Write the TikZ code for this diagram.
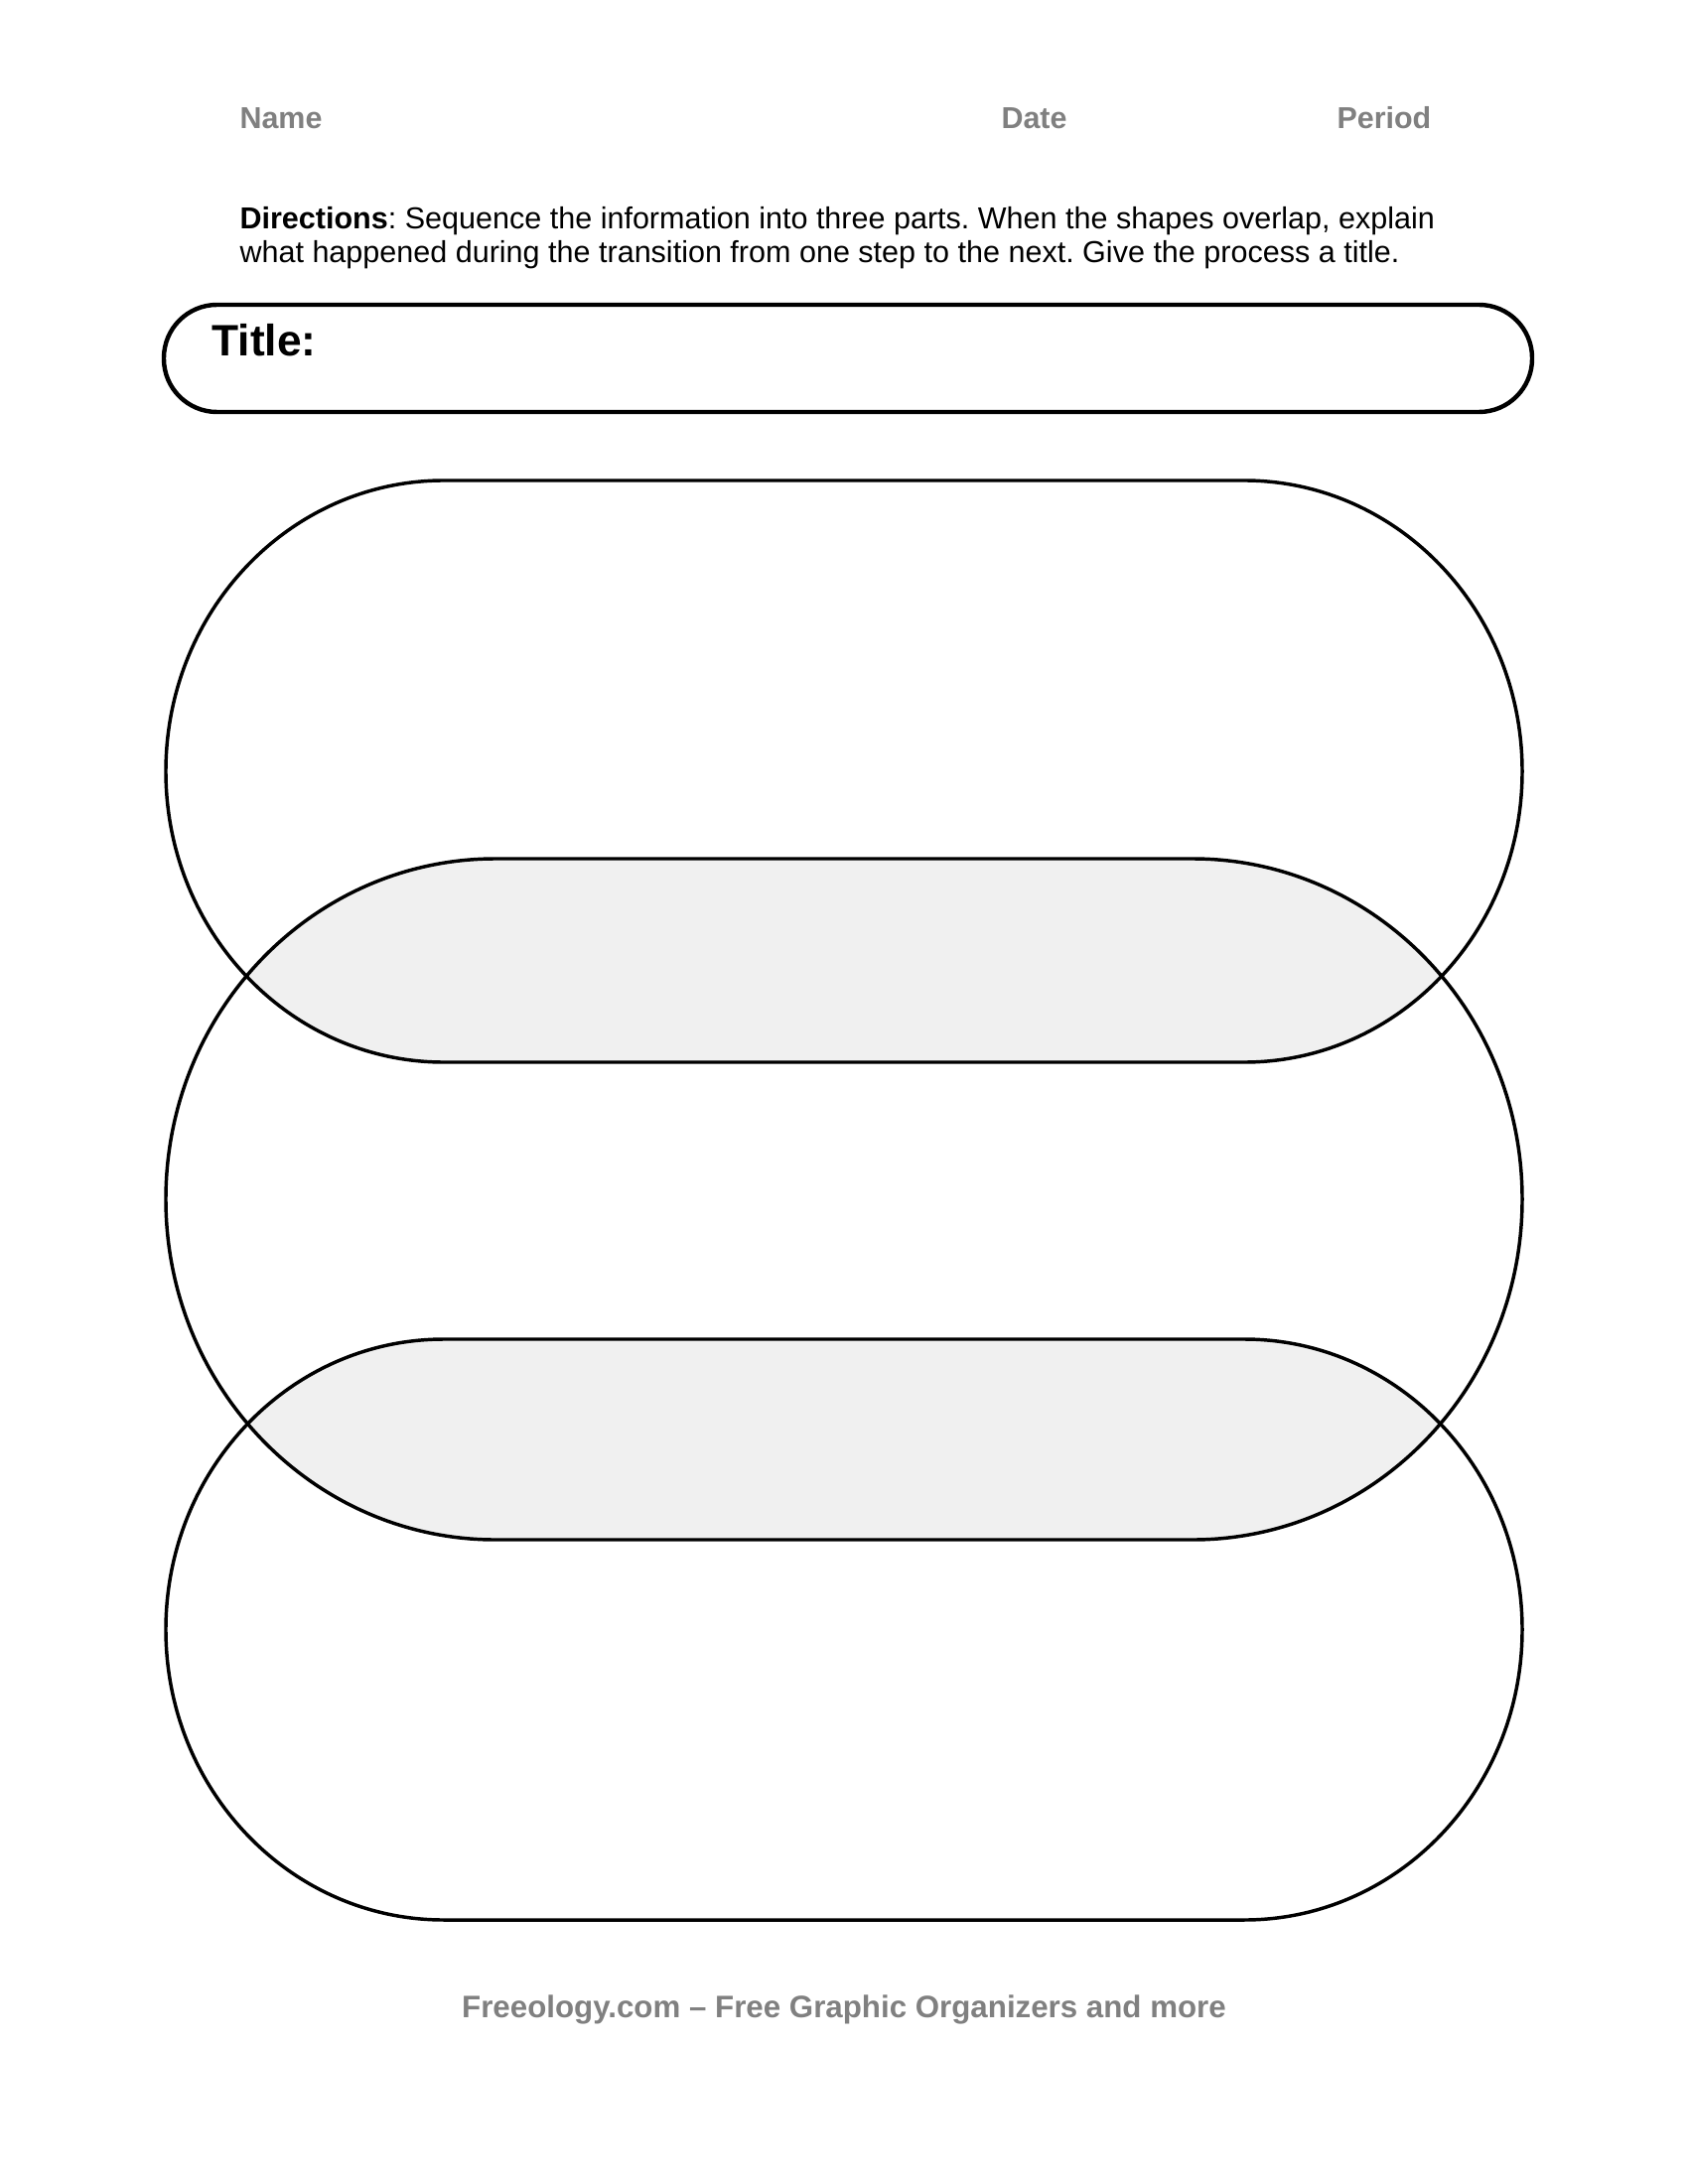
\documentclass[tikz,border=0pt]{standalone}
\usepackage{fontspec}
\setmainfont{Liberation Sans}
\usepackage{tikz}
\usetikzlibrary{positioning}
\frenchspacing

\definecolor{headgray}{HTML}{808080}
\definecolor{overlapgray}{HTML}{F0F0F0}

\tikzset{
  headtext/.style={anchor=base west, inner sep=0pt, text=headgray,
    font=\fontsize{11}{13}\selectfont\bfseries},
  bodytext/.style={anchor=base west, inner sep=0pt, align=left,
    font=\fontsize{11.03}{12.6}\selectfont},
  titlebar/.style={line width=1.6pt, rounded corners=0.68cm},
  pill/.style={line width=1.25pt},
  overlap/.style={fill=overlapgray}
}

% one stadium: #1 centre y, #2 half height, #3 end radius
\newcommand{\stadium}[3]{(167+#3,#1-#2) -- (1533-#3,#1-#2)
  arc[start angle=-90, end angle=90, x radius=#3, y radius=#2]
  -- (167+#3,#1+#2)
  arc[start angle=90, end angle=270, x radius=#3, y radius=#2] -- cycle}

\begin{document}
\begin{tikzpicture}[x=0.0127cm, y=-0.0127cm]
  \useasboundingbox (0,0) rectangle (1700,2200);

  % Header line
  \node[headtext] (name) at (241,130) {Name};
  \node[headtext] (date) at (1008,130) {Date};
  \node[headtext] (period) at (1346,130) {Period};

  % Directions
  \node[bodytext] (directions) at (241,265)
    {\textbf{Directions}: Sequence the information into three parts. When the shapes overlap, explain\\
     what happened during the transition from one step to the next. Give the process a title.};

  % Title box
  \draw[titlebar] (165,307) rectangle (1543,415);
  \node[anchor=base west, inner sep=0pt, font=\fontsize{16}{19}\selectfont\bfseries] (title) at (213,359) {Title:};

  % Shade where the shapes overlap
  \begin{scope}
    \clip \stadium{777}{293}{280};
    \fill[overlap] \stadium{1208}{343}{332};
  \end{scope}
  \begin{scope}
    \clip \stadium{1641.5}{292.5}{280};
    \fill[overlap] \stadium{1208}{343}{332};
  \end{scope}

  % The three steps
  \draw[pill] \stadium{777}{293}{280};
  \draw[pill] \stadium{1208}{343}{332};
  \draw[pill] \stadium{1641.5}{292.5}{280};

  % Footer
  \node[anchor=base, inner sep=0pt, text=headgray,
    font=\fontsize{11.3}{13}\selectfont\bfseries] (footer) at (850,2032)
    {Freeology.com – Free Graphic Organizers and more};
\end{tikzpicture}
\end{document}
